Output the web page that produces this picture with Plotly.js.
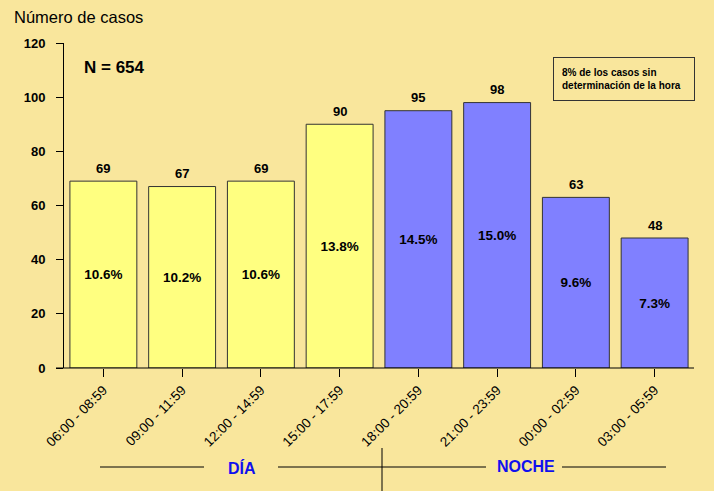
<!DOCTYPE html>
<html><head><meta charset="utf-8">
<script src="https://cdn.plot.ly/plotly-3.0.1.min.js"></script>
<style>html,body{margin:0;padding:0;background:#F9E69C;}</style>
</head><body><div id="c" style="width:714px;height:491px;"></div>
<script>
const categories = ["06:00 - 08:59","09:00 - 11:59","12:00 - 14:59","15:00 - 17:59","18:00 - 20:59","21:00 - 23:59","00:00 - 02:59","03:00 - 05:59"];
const cases = [69, 67, 69, 90, 95, 98, 63, 48];
const percents = ["10.6%","10.2%","10.6%","13.8%","14.5%","15.0%","9.6%","7.3%"];
const periods = ["DÍA","DÍA","DÍA","DÍA","NOCHE","NOCHE","NOCHE","NOCHE"];
const yTicks = [0, 20, 40, 60, 80, 100, 120];

const W = 714, H = 491, L = 64, R = 20, T = 43, B = 123;
const pw = W - L - R, ph = H - T - B;
const px = x => (x - L) / pw;
const py = y => (H - B - y) / ph;

const colors = periods.map(p => p === "DÍA" ? "#FFFF80" : "#8080FF");
const font = "Liberation Sans, Arial, sans-serif";

const traces = [
  {type: "bar", x: categories, y: cases, width: 0.85,
   marker: {color: colors, line: {color: "#333333", width: 1}},
   text: percents, textposition: "inside", insidetextanchor: "middle", textangle: 0,
   textfont: {family: font, size: 13.5, color: "#000", weight: "bold"},
   hoverinfo: "skip", cliponaxis: false}
];

const countLabels = categories.map((c, i) => ({
  x: c, y: cases[i], xref: "x", yref: "y", text: "<b>" + cases[i] + "</b>",
  showarrow: false, yanchor: "middle", yshift: 13,
  font: {family: font, size: 13, color: "#000"}
}));

const lineStyle = {color: "#000", width: 1};
const layout = {
  width: W, height: H,
  paper_bgcolor: "#F9E69C", plot_bgcolor: "#F9E69C",
  margin: {l: L, r: R, t: T, b: B},
  showlegend: false, bargap: 0.15,
  font: {family: font, color: "#000"},
  xaxis: {type: "category", range: [-0.5, 7.5], showline: false, showgrid: false, zeroline: false,
          ticks: "outside", ticklen: 8, tickcolor: "#000", tickangle: -45,
          tickfont: {family: font, size: 13.5, color: "#000"}},
  yaxis: {range: [0, 120], tickvals: yTicks, showgrid: false, zeroline: false,
          showline: true, linecolor: "#000", linewidth: 1,
          ticks: "outside", ticklen: 7, tickcolor: "#000", ticklabelstandoff: 8,
          tickfont: {family: font, size: 13, color: "#000", weight: "bold"}},
  shapes: [
    {type: "line", xref: "paper", yref: "paper", x0: px(56), x1: 1, y0: 0, y1: 0, line: lineStyle},
    {type: "line", xref: "paper", yref: "paper", x0: px(100), x1: px(204), y0: py(467), y1: py(467), line: lineStyle},
    {type: "line", xref: "paper", yref: "paper", x0: px(278), x1: px(486), y0: py(467), y1: py(467), line: lineStyle},
    {type: "line", xref: "paper", yref: "paper", x0: px(562), x1: px(666), y0: py(467), y1: py(467), line: lineStyle},
    {type: "line", xref: "paper", yref: "paper", x0: px(382), x1: px(382), y0: py(448), y1: py(491), line: lineStyle}
  ],
  annotations: countLabels.concat([
    {xref: "paper", yref: "paper", x: px(12), y: py(17), xanchor: "left", yanchor: "middle",
     text: "Número de casos", showarrow: false, font: {family: font, size: 16.5, color: "#000"}},
    {xref: "paper", yref: "paper", x: px(82), y: py(68), xanchor: "left", yanchor: "middle",
     text: "<b>N = 654</b>", showarrow: false, font: {family: font, size: 17, color: "#000"}},
    {xref: "paper", yref: "paper", x: px(242), y: py(468), xanchor: "center", yanchor: "middle",
     text: "<b>DÍA</b>", showarrow: false, font: {family: font, size: 16, color: "#1010EE"}},
    {xref: "paper", yref: "paper", x: px(526), y: py(467), xanchor: "center", yanchor: "middle",
     text: "<b>NOCHE</b>", showarrow: false, font: {family: font, size: 16, color: "#1010EE"}},
    {xref: "paper", yref: "paper", x: px(553), y: py(57), xanchor: "left", yanchor: "top",
     text: "<b>8% de los casos sin<br>determinación de la hora</b>", align: "left", showarrow: false,
     font: {family: font, size: 10, color: "#000"},
     bordercolor: "#333", borderwidth: 1, borderpad: 8, width: 124, height: 26}
  ])
};
Plotly.newPlot("c", traces, layout, {displayModeBar: false, staticPlot: true});
</script></body></html>
